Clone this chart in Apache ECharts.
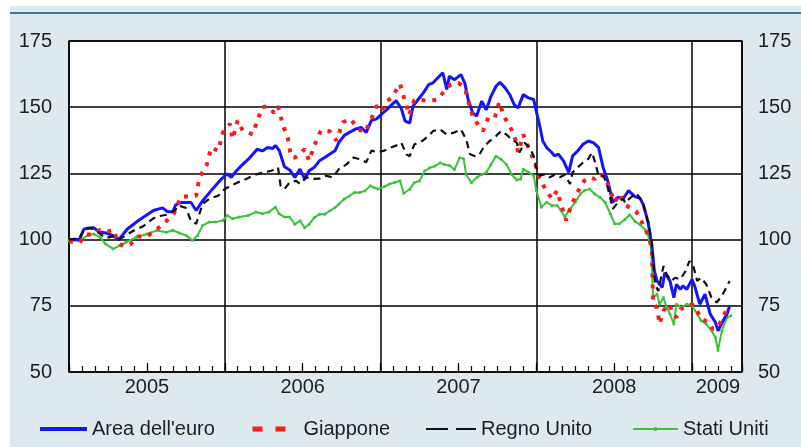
<!DOCTYPE html>
<html>
<head>
<meta charset="utf-8">
<script src="https://cdn.jsdelivr.net/npm/echarts@6/dist/echarts.min.js"></script>
<style>
html,body{margin:0;padding:0;background:#fff;}
#chart{width:801px;height:447px;}
</style>
</head>
<body>
<div id="chart"></div>
<script>
// x values: months elapsed since 1 January 2005
const xMax = 51.85;
const yearLabels = ['2005', '2006', '2007', '2008', '2009'];
const yTicks = [50, 75, 100, 125, 150, 175];

const seriesNames = ["Area dell'euro", 'Giappone', 'Regno Unito', 'Stati Uniti'];

const euroArea = [[0,100],[0.8,100],[1.15,104],[1.9,104.5],[2.3,103],[2.85,102.5],[3.4,101.5],[3.8,100],[4.0,101],[4.5,104],[5.3,107],[5.9,109],[6.5,111],[7.2,112],[7.6,110.5],[8.0,110.5],[8.2,113],[8.6,114],[9.4,114],[9.8,111],[10.3,114.7],[10.95,118.5],[11.5,121.6],[12.0,124.1],[12.2,124.8],[12.5,123.5],[12.9,126],[13.4,128.5],[13.9,130.8],[14.5,134.1],[14.9,133.5],[15.3,134.8],[15.7,134.4],[15.9,135.6],[16.2,133.6],[16.6,127.5],[17.0,126.3],[17.4,123.5],[17.8,126.6],[18.15,122.9],[18.5,126],[18.9,127.3],[19.3,129.8],[19.7,131],[20.1,132.3],[20.5,133.6],[20.8,136.7],[21.2,139.3],[21.6,140.5],[22.1,141.8],[22.5,142.4],[22.9,140.5],[23.3,145],[23.7,145.6],[24.1,147.5],[24.4,148.7],[24.8,150.6],[25.2,152.5],[25.6,149.5],[25.9,144.7],[26.25,144],[26.5,150.4],[26.9,152.9],[27.3,155.4],[27.7,158.5],[28.05,159.2],[28.4,161],[28.8,163],[29.1,156.7],[29.3,161.7],[29.7,160.4],[30.2,162.3],[30.5,159],[30.75,152.9],[31.1,147.9],[31.4,146.6],[31.8,152.3],[32.15,149],[32.5,154],[32.9,157.9],[33.2,159.4],[33.6,157.3],[33.95,154.8],[34.3,151],[34.6,149.75],[35.0,154.75],[35.4,153.5],[35.8,152.9],[36.0,148.5],[36.3,142.25],[36.5,137.25],[36.8,134.75],[37.2,132.9],[37.4,131.6],[37.7,132.25],[38.1,129.75],[38.5,125.4],[38.8,131.6],[39.2,133.5],[39.6,136],[40.0,137.25],[40.4,136.6],[40.8,134.75],[41.15,127.25],[41.5,122.25],[41.9,114.1],[42.3,116],[42.7,115.4],[43.1,118.5],[43.6,116.25],[44.0,115.6],[44.25,113.1],[44.6,106.9],[44.9,98.1],[45.1,88.1],[45.3,84.4],[45.7,81.9],[45.9,87.5],[46.3,84.4],[46.6,78.1],[46.8,83.1],[47.1,81.25],[47.3,82.5],[47.6,81.25],[48.0,85],[48.2,82.5],[48.6,75.6],[49.0,79.4],[49.4,71.9],[49.8,68.75],[50.0,65.6],[50.4,69.4],[50.7,71.9],[50.9,75]];

const japan = [[0,99.4],[0.8,98.8],[1.3,101.9],[1.9,101.9],[2.4,103.7],[3.0,103.1],[3.4,103.7],[3.8,98.8],[4.2,97.5],[4.7,98.1],[5.3,101.2],[6.0,101.2],[6.8,104],[7.5,107],[8.1,110],[8.6,116],[9.3,116.5],[9.8,116.6],[10.05,123.5],[10.6,128],[10.95,134.75],[11.5,133.5],[11.85,140.4],[12.4,143.75],[12.6,138],[13.0,145],[13.4,141],[13.8,140.4],[14.15,139.75],[14.5,144.75],[14.9,150],[15.3,150.4],[15.8,147.9],[16.1,150.4],[16.5,142.9],[16.85,138.5],[17.1,131.3],[17.4,131],[17.8,132.3],[18.15,134.2],[18.5,129.8],[18.9,135.5],[19.4,141.2],[20.1,140.9],[20.6,137.4],[21.1,144.3],[21.7,145.6],[22.25,141.8],[22.8,140.5],[23.3,145.6],[23.7,150.6],[24.1,148.7],[24.4,151.9],[24.9,153.8],[25.5,158.8],[25.9,152],[26.2,147],[26.6,152.7],[27.2,152.7],[27.7,152.3],[28.4,152.9],[28.8,155.4],[29.4,158.5],[30.0,159.2],[30.5,157.3],[30.8,151.6],[31.1,146.6],[31.5,143.5],[31.9,141],[32.3,146],[32.8,146],[33.15,152],[33.5,146.6],[33.95,142.8],[34.3,139.7],[34.6,133],[35.0,139.7],[35.4,134.7],[35.9,129],[36.2,123.5],[36.7,119.1],[37.2,115.4],[37.6,118.5],[37.9,113.5],[38.3,107.25],[38.7,112.9],[39.1,117.25],[39.7,122.25],[40.1,123.5],[40.5,122.9],[40.9,124.75],[41.3,123.5],[41.7,118.5],[42.05,114.1],[42.4,117.25],[42.85,113.1],[43.7,110.6],[44.1,106.9],[44.6,101.9],[44.9,96.9],[45.0,75.6],[45.3,74.4],[45.5,68.1],[45.8,73.1],[46.2,75.6],[46.6,71.9],[46.8,70.6],[47.1,73.75],[47.5,74.4],[48.0,75.6],[48.4,73.1],[48.7,70],[49.3,68.75],[49.6,66.25],[50.0,66.9],[50.3,70],[50.7,73.75],[50.9,74.4]];

const unitedKingdom = [[0,100],[0.8,100.5],[1.2,104.4],[1.7,104.4],[2.3,102.5],[2.85,100.6],[3.4,101.2],[3.85,100],[4.5,102],[5.2,104],[5.7,105],[6.5,108],[7.1,109],[7.5,109.4],[8.2,111.2],[8.4,112.9],[9.0,112],[9.4,107],[9.8,106],[10.3,113.5],[10.8,115.4],[11.5,116.6],[12.0,119.1],[12.5,120.4],[13.0,121.6],[13.5,122.5],[14.0,123.75],[14.5,124.75],[15.05,125.4],[15.6,126],[16.1,127.25],[16.3,120.4],[16.6,119.1],[17.0,121.6],[17.5,122.2],[17.8,121],[18.3,123.5],[18.8,122.9],[19.3,123],[19.8,124.1],[20.3,123.5],[20.8,126.6],[21.4,128.5],[21.9,131],[22.4,130.4],[22.9,129.2],[23.3,133.6],[23.8,133],[24.3,133.6],[24.8,134.8],[25.2,135.5],[25.6,136.6],[26.0,132.2],[26.25,131.5],[26.6,135.9],[27.2,137.2],[27.7,139.1],[28.05,141],[28.6,141.6],[29.1,139.7],[29.6,140.3],[30.2,141.6],[30.6,137.8],[30.9,132.2],[31.3,131.5],[31.6,132],[32.0,135.3],[32.4,137.2],[32.9,139.1],[33.3,141],[33.7,139.7],[34.1,137.8],[34.5,136.6],[34.7,132.9],[35.1,136.6],[35.5,134.75],[35.8,131.6],[36.0,127.25],[36.3,124.1],[36.7,124.75],[37.05,123.5],[37.4,124.5],[37.8,123.5],[38.2,124.5],[38.6,121],[38.8,125.4],[39.2,127.25],[39.6,129.1],[40.0,130.4],[40.3,132.9],[40.5,129.75],[40.8,124.1],[41.2,124],[41.5,119.75],[41.9,111.6],[42.3,114.1],[42.7,115.4],[42.85,113.75],[43.2,115.6],[43.7,117.5],[44.0,115.6],[44.25,113.1],[44.6,106.9],[44.9,99.4],[45.15,83.1],[45.4,80.6],[45.8,90],[46.05,86.9],[46.4,84.4],[46.7,85.6],[47.1,85],[47.5,88.1],[47.8,91.9],[48.1,90],[48.4,84.4],[48.7,85.6],[49.1,83.1],[49.5,78.1],[49.9,76.25],[50.3,78.75],[50.5,80.6],[50.9,84.4]];

const unitedStates = [[0,99.6],[0.8,99.6],[1.4,101.5],[1.9,102.1],[2.4,100.9],[2.8,98.4],[3.4,96.5],[3.9,97.7],[4.4,99],[5.2,100.9],[6.0,102.1],[6.75,103.4],[7.5,102.8],[8.0,103.5],[8.5,102.5],[9.05,101.5],[9.5,99.7],[9.9,101.5],[10.3,105.4],[10.8,106.6],[11.3,106.6],[11.85,107.25],[12.2,109.1],[12.6,107.9],[13.1,108.5],[13.8,109.1],[14.4,110.4],[14.9,109.75],[15.4,110.4],[15.9,112.25],[16.2,109.75],[16.6,108.5],[17.0,108.5],[17.4,105.8],[17.8,107.1],[18.15,104.5],[18.5,105.8],[18.9,108.3],[19.3,109.6],[19.7,109.6],[20.1,110.9],[20.5,112.1],[20.8,113.4],[21.2,115.3],[21.6,116.5],[22.0,117.8],[22.4,117.8],[22.8,118.4],[23.2,120.3],[23.5,119.7],[23.8,119.1],[24.3,120],[24.7,121],[25.1,121.6],[25.5,122.2],[25.8,117.5],[26.25,119],[26.6,121.5],[27.0,122.1],[27.4,125.9],[27.8,127.1],[28.2,127.8],[28.6,129],[28.9,128.4],[29.3,128],[29.7,126.5],[30.1,130.9],[30.4,130.5],[30.6,124.6],[31.0,121.5],[31.4,123.4],[31.8,124.6],[32.15,125.3],[32.5,128.4],[32.9,131.5],[33.3,130.3],[33.7,128.4],[34.1,124.6],[34.5,122.5],[34.8,122.9],[35.0,126.6],[35.4,125.4],[35.8,124.1],[36.0,118.5],[36.4,112.25],[36.8,114.1],[37.2,112.9],[37.6,112.9],[37.9,111],[38.2,108.5],[38.6,111.6],[39.0,114.1],[39.4,117.25],[39.7,118.5],[40.1,119.1],[40.5,117.25],[40.9,116],[41.3,114.1],[41.7,109.75],[42.05,106],[42.4,106],[42.8,107.5],[43.2,109.4],[43.6,106.9],[44.0,105.6],[44.4,103.75],[44.6,101.9],[44.85,96.9],[45.0,78.1],[45.3,79.4],[45.5,75.6],[45.8,78.1],[46.05,74.4],[46.3,71.9],[46.6,68.1],[46.8,75.6],[47.2,74.4],[47.6,75.6],[48.0,75],[48.4,71.9],[48.7,69.4],[49.1,68.1],[49.5,65.6],[49.8,63.1],[50.0,58.1],[50.3,65.6],[50.7,70.6],[51.0,71.25]];

// label each year at the middle of its span on the axis
const yearCenters = {};
yearLabels.forEach((y, i) => {
  const c = Math.round((12 * i + Math.min(12 * (i + 1), xMax)) / 2);
  yearCenters[c] = y;
});

const FONT = '"Liberation Sans", Arial, sans-serif';
const TXT = '#1e1e1e';

const chart = echarts.init(document.getElementById('chart'), null, {renderer: 'canvas'});

const legendBase = {
  orient: 'horizontal',
  top: 419,
  padding: 0,
  itemHeight: 8,
  textStyle: {fontFamily: FONT, fontSize: 20, color: TXT},
  selectedMode: false
};
const noDot = {opacity: 0};

chart.setOption({
  animation: false,
  backgroundColor: '#dde8ef',
  textStyle: {fontFamily: FONT},
  graphic: [
    {type: 'rect', shape: {x: 0, y: 0, width: 801, height: 6}, style: {fill: '#fff'}, silent: true},
    {type: 'rect', shape: {x: 0, y: 0, width: 10, height: 447}, style: {fill: '#fff'}, silent: true},
    {type: 'line', shape: {x1: 10, y1: 13, x2: 801, y2: 13}, style: {stroke: '#3d7896', lineWidth: 2}, silent: true}
  ],
  grid: {
    left: 69, right: 59, top: 41, bottom: 75,
    show: true, backgroundColor: '#fff', borderColor: '#000', borderWidth: 1.5
  },
  legend: [
    Object.assign({}, legendBase, {left: 38, itemWidth: 47, data: [seriesNames[0]], lineStyle: {width: 4}, itemStyle: noDot}),
    Object.assign({}, legendBase, {left: 250, itemWidth: 46, data: [seriesNames[1]], lineStyle: {width: 5, type: [10, 13]}, itemStyle: noDot}),
    Object.assign({}, legendBase, {left: 425, itemWidth: 50, data: [seriesNames[2]], lineStyle: {width: 2, type: [22, 8]}, itemStyle: noDot}),
    Object.assign({}, legendBase, {left: 632, itemWidth: 45, itemHeight: 5, data: [seriesNames[3]], lineStyle: {width: 2}})
  ],
  xAxis: [
    {
      type: 'value', min: 0, max: xMax, interval: 1, position: 'bottom',
      axisLine: {show: false},
      axisTick: {show: true, inside: true, length: 6, lineStyle: {color: '#000', width: 1.2}},
      axisLabel: {
        show: true, margin: 5, fontSize: 20, fontFamily: FONT, color: TXT,
        showMinLabel: true, showMaxLabel: true,
        formatter: v => yearCenters[Math.round(v)] !== undefined && Math.abs(v - Math.round(v)) < 1e-6 ? yearCenters[Math.round(v)] : ''
      },
      splitLine: {show: false}
    },
    {
      type: 'value', min: 0, max: xMax, interval: 12, position: 'bottom',
      axisLine: {show: false}, axisTick: {show: false}, axisLabel: {show: false},
      splitLine: {show: true, lineStyle: {color: '#000', width: 1.5}}
    },
    {
      type: 'value', min: 0, max: xMax, interval: 6, position: 'bottom',
      axisLine: {show: false}, axisLabel: {show: false},
      axisTick: {show: true, inside: true, length: 9, lineStyle: {color: '#000', width: 1.2}},
      splitLine: {show: false}
    }
  ],
  yAxis: [
    {
      type: 'value', min: yTicks[0], max: yTicks[yTicks.length - 1], interval: 25, position: 'left',
      axisLine: {show: false}, axisTick: {show: false},
      axisLabel: {margin: 17, fontSize: 20, fontFamily: FONT, color: TXT},
      splitLine: {show: true, lineStyle: {color: '#000', width: 1.5}}
    },
    {
      type: 'value', min: yTicks[0], max: yTicks[yTicks.length - 1], interval: 25, position: 'right',
      axisLine: {show: false}, axisTick: {show: false},
      axisLabel: {margin: 16, fontSize: 20, fontFamily: FONT, color: TXT},
      splitLine: {show: false}
    }
  ],
  series: [
    {
      name: seriesNames[3], type: 'line', data: unitedStates, z: 2,
      symbol: 'circle', symbolSize: 3, showSymbol: true,
      itemStyle: {color: '#3ac43a'},
      lineStyle: {color: '#3ac43a', width: 2}
    },
    {
      name: seriesNames[0], type: 'line', data: euroArea, z: 3,
      symbol: 'none', showSymbol: false,
      itemStyle: {color: '#1414ff'},
      lineStyle: {color: '#1414ff', width: 3}
    },
    {
      name: seriesNames[1], type: 'line', data: japan, z: 4,
      symbol: 'none', showSymbol: false,
      itemStyle: {color: '#ff1a1a'},
      lineStyle: {color: '#ff1a1a', width: 4, type: [4, 7], cap: 'butt'}
    },
    {
      name: seriesNames[2], type: 'line', data: unitedKingdom, z: 5,
      symbol: 'none', showSymbol: false,
      itemStyle: {color: '#111'},
      lineStyle: {color: '#111', width: 2.2, type: [7, 5]}
    }
  ]
});
</script>
</body>
</html>
